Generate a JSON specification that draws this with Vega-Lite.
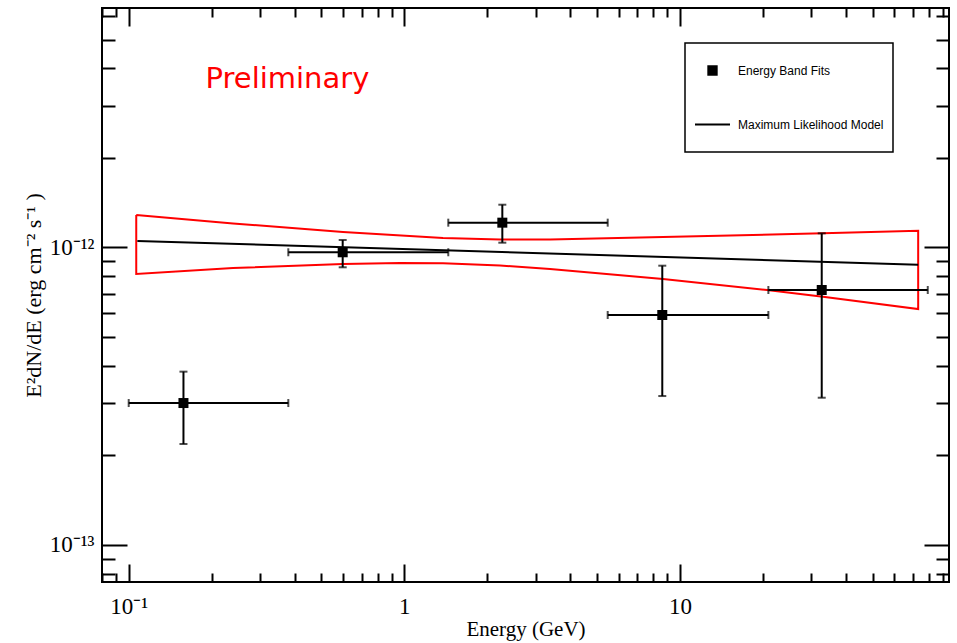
{
  "$schema": "https://vega.github.io/schema/vega-lite/v6.json",
  "width": 847,
  "height": 574,
  "autosize": {"type": "none"},
  "padding": {"left": 102, "top": 8, "right": 8, "bottom": 61},
  "background": "white",
  "datasets": {
    "points": [
      {"E": 0.158, "Elo": 0.1, "Ehi": 0.3794, "F": 3.0e-13, "Flo": 2.185e-13, "Fhi": 3.825e-13, "series": "Energy Band Fits"},
      {"E": 0.5976, "Elo": 0.3794, "Ehi": 1.444, "F": 9.636e-13, "Flo": 8.578e-13, "Fhi": 1.0598e-12, "series": "Energy Band Fits"},
      {"E": 2.268, "Elo": 1.444, "Ehi": 5.47, "F": 1.2118e-12, "Flo": 1.0378e-12, "Fhi": 1.3925e-12, "series": "Energy Band Fits"},
      {"E": 8.63, "Elo": 5.47, "Ehi": 20.94, "F": 5.93e-13, "Flo": 3.167e-13, "Fhi": 8.686e-13, "series": "Energy Band Fits"},
      {"E": 32.7, "Elo": 20.94, "Ehi": 79.3, "F": 7.195e-13, "Flo": 3.126e-13, "Fhi": 1.116e-12, "series": "Energy Band Fits"}
    ],
    "model": [
      {"E": 0.1075, "F": 1.0515e-12, "series": "Maximum Likelihood Model"},
      {"E": 73.2, "F": 8.754e-13, "series": "Maximum Likelihood Model"}
    ],
    "band": [
      {"i": 0, "E": 0.1065, "F": 1.2857e-12},
      {"i": 1, "E": 0.239, "F": 1.2042e-12},
      {"i": 2, "E": 0.5991, "F": 1.1274e-12},
      {"i": 3, "E": 1.382, "F": 1.0762e-12},
      {"i": 4, "E": 2.225, "F": 1.0638e-12},
      {"i": 5, "E": 3.379, "F": 1.0638e-12},
      {"i": 6, "E": 8.684, "F": 1.0845e-12},
      {"i": 7, "E": 33.05, "F": 1.1161e-12},
      {"i": 8, "E": 73.2, "F": 1.1388e-12},
      {"i": 9, "E": 73.2, "F": 6.211e-13},
      {"i": 10, "E": 33.05, "F": 6.832e-13},
      {"i": 11, "E": 20.7, "F": 7.195e-13},
      {"i": 12, "E": 8.684, "F": 7.833e-13},
      {"i": 13, "E": 3.379, "F": 8.467e-13},
      {"i": 14, "E": 2.225, "F": 8.7e-13},
      {"i": 15, "E": 1.382, "F": 8.849e-13},
      {"i": 16, "E": 0.9647, "F": 8.87e-13},
      {"i": 17, "E": 0.5991, "F": 8.801e-13},
      {"i": 18, "E": 0.239, "F": 8.532e-13},
      {"i": 19, "E": 0.1065, "F": 8.145e-13},
      {"i": 20, "E": 0.1065, "F": 1.2857e-12}
    ],
    "note": [
      {"E": 0.19, "F": 3.43e-12, "label": "Preliminary"}
    ]
  },
  "config": {
    "view": {"stroke": "black", "strokeWidth": 2},
    "axis": {
      "grid": false,
      "domain": false,
      "labelFont": "Liberation Serif",
      "titleFont": "Liberation Serif",
      "labelFontSize": 23,
      "titleFontSize": 21,
      "titleFontWeight": "normal",
      "labelColor": "black",
      "titleColor": "black",
      "tickColor": "black",
      "tickWidth": 2,
      "labelFlush": false,
      "labelOverlap": false
    }
  },
  "resolve": {"axis": {"x": "independent", "y": "independent"}},
  "layer": [
    {
      "data": {"name": "band"},
      "mark": {"type": "line", "color": "#ff0000", "strokeWidth": 2},
      "encoding": {
        "x": {
          "field": "E", "type": "quantitative",
          "scale": {"type": "log", "domain": [0.08, 94.7], "nice": false},
          "axis": {
            "orient": "bottom",
            "values": [0.08,0.09,0.1,0.2,0.3,0.4,0.5,0.6,0.7,0.8,0.9,1,2,3,4,5,6,7,8,9,10,20,30,40,50,60,70,80,90],
            "labelExpr": "datum.value == 0.1 ? '10⁻¹' : datum.value == 1 ? '1' : datum.value == 10 ? '10' : ''",
            "tickSize": {"condition": {"test": "datum.value == 0.1 || datum.value == 1 || datum.value == 10", "value": -18}, "value": -9},
            "labelPadding": 31,
            "title": "Energy (GeV)",
            "titleFontSize": 21,
            "titlePadding": -9
          }
        },
        "y": {
          "field": "F", "type": "quantitative",
          "scale": {"type": "log", "domain": [7.508e-14, 6.383e-12], "nice": false},
          "axis": {
            "orient": "left",
            "values": [8e-14,9e-14,1e-13,2e-13,3e-13,4e-13,5e-13,6e-13,7e-13,8e-13,9e-13,1e-12,2e-12,3e-12,4e-12,5e-12,6e-12],
            "labelExpr": "datum.value == 1e-12 ? '10⁻¹²' : datum.value == 1e-13 ? '10⁻¹³' : ''",
            "tickSize": {"condition": {"test": "datum.value == 1e-12 || datum.value == 1e-13", "value": -25}, "value": -13},
            "labelPadding": 33,
            "title": "E²dN/dE (erg cm⁻² s⁻¹ )",
            "titleFontSize": 22,
            "titlePadding": 4
          }
        },
        "order": {"field": "i", "type": "quantitative"}
      }
    },
    {
      "data": {"name": "model"},
      "mark": {"type": "line", "color": "black", "strokeWidth": 2},
      "encoding": {
        "x": {
          "field": "E", "type": "quantitative",
          "scale": {"type": "log", "domain": [0.08, 94.7], "nice": false},
          "axis": {
            "orient": "top",
            "values": [0.08,0.09,0.1,0.2,0.3,0.4,0.5,0.6,0.7,0.8,0.9,1,2,3,4,5,6,7,8,9,10,20,30,40,50,60,70,80,90],
            "labels": false,
            "tickSize": {"condition": {"test": "datum.value == 0.1 || datum.value == 1 || datum.value == 10", "value": -18}, "value": -9},
            "title": null
          }
        },
        "y": {
          "field": "F", "type": "quantitative",
          "scale": {"type": "log", "domain": [7.508e-14, 6.383e-12], "nice": false},
          "axis": {
            "orient": "right",
            "values": [8e-14,9e-14,1e-13,2e-13,3e-13,4e-13,5e-13,6e-13,7e-13,8e-13,9e-13,1e-12,2e-12,3e-12,4e-12,5e-12,6e-12],
            "labels": false,
            "tickSize": {"condition": {"test": "datum.value == 1e-12 || datum.value == 1e-13", "value": -25}, "value": -13},
            "title": null
          }
        },
        "color": {
          "field": "series", "type": "nominal",
          "scale": {"domain": ["Energy Band Fits", "Maximum Likelihood Model"], "range": ["black", "black"]},
          "legend": {
            "orient": "none",
            "legendX": 583,
            "legendY": 35,
            "title": null,
            "padding": 9,
            "rowPadding": 27,
            "symbolSize": 1225,
            "symbolStrokeWidth": 2,
            "labelFont": "Liberation Sans",
            "labelFontSize": 12,
            "labelColor": "black",
            "labelOffset": 7,
            "labelLimit": 300,
            "strokeColor": "black",
            "fillColor": "white",
            "encode": {
              "symbols": {
                "update": {
                  "shape": {"signal": "datum.value === 'Energy Band Fits' ? 'square' : 'M-1,0L1,0M0,0.8Z'"},
                  "size": {"signal": "datum.value === 'Energy Band Fits' ? 70 : 1225"},
                  "fill": {"value": "black"},
                  "stroke": {"value": "black"},
                  "strokeWidth": {"value": 2},
                  "opacity": {"value": 1}
                }
              },
              "legend": {"update": {"strokeWidth": {"value": 1.5}}}
            }
          }
        }
      }
    },
    {
      "data": {"name": "points"},
      "mark": {"type": "errorbar", "color": "black", "thickness": 2, "ticks": {"size": 8, "thickness": 2, "color": "black"}},
      "encoding": {
        "x": {"field": "Elo", "type": "quantitative", "scale": {"type": "log", "domain": [0.08, 94.7], "nice": false}, "axis": null},
        "x2": {"field": "Ehi"},
        "y": {"field": "F", "type": "quantitative", "scale": {"type": "log", "domain": [7.508e-14, 6.383e-12], "nice": false}, "axis": null}
      }
    },
    {
      "data": {"name": "points"},
      "mark": {"type": "errorbar", "color": "black", "thickness": 2, "ticks": {"size": 8, "thickness": 2, "color": "black"}},
      "encoding": {
        "x": {"field": "E", "type": "quantitative", "scale": {"type": "log", "domain": [0.08, 94.7], "nice": false}, "axis": null},
        "y": {"field": "Flo", "type": "quantitative", "scale": {"type": "log", "domain": [7.508e-14, 6.383e-12], "nice": false}, "axis": null},
        "y2": {"field": "Fhi"}
      }
    },
    {
      "data": {"name": "points"},
      "mark": {"type": "point", "shape": "square", "filled": true, "size": 100, "opacity": 1, "strokeWidth": 0},
      "encoding": {
        "x": {"field": "E", "type": "quantitative", "scale": {"type": "log", "domain": [0.08, 94.7], "nice": false}, "axis": null},
        "y": {"field": "F", "type": "quantitative", "scale": {"type": "log", "domain": [7.508e-14, 6.383e-12], "nice": false}, "axis": null},
        "color": {"field": "series", "type": "nominal"}
      }
    },
    {
      "data": {"name": "note"},
      "mark": {"type": "text", "align": "left", "baseline": "alphabetic", "font": "DejaVu Sans", "fontSize": 29, "color": "#ff0000"},
      "encoding": {
        "x": {"field": "E", "type": "quantitative", "scale": {"type": "log", "domain": [0.08, 94.7], "nice": false}, "axis": null},
        "y": {"field": "F", "type": "quantitative", "scale": {"type": "log", "domain": [7.508e-14, 6.383e-12], "nice": false}, "axis": null},
        "text": {"field": "label"}
      }
    }
  ]
}
